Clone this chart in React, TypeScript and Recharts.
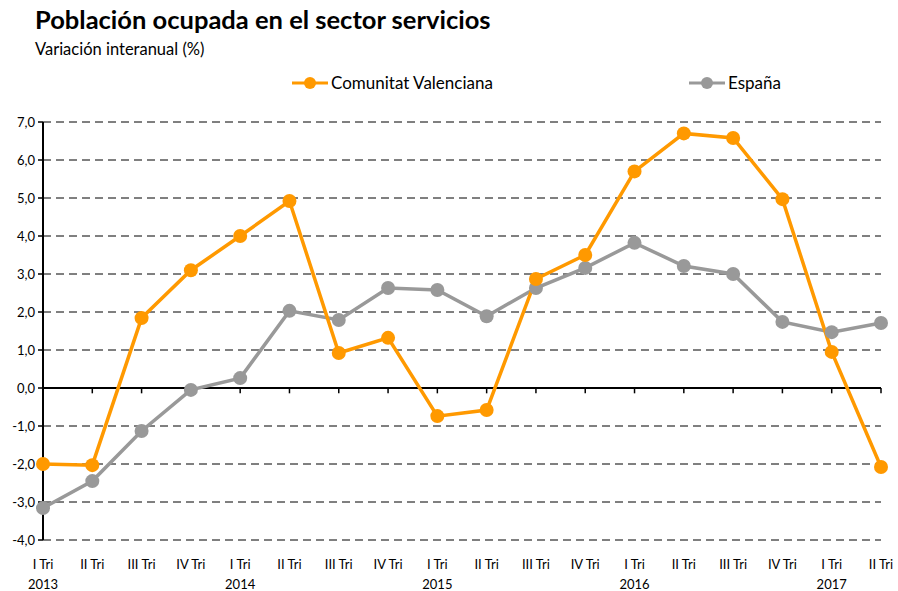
import React from "react";
import {
  CartesianGrid,
  Line,
  LineChart,
  ReferenceLine,
  XAxis,
  YAxis,
} from "recharts";

const quarters = [
  "I Tri", "II Tri", "III Tri", "IV Tri",
  "I Tri", "II Tri", "III Tri", "IV Tri",
  "I Tri", "II Tri", "III Tri", "IV Tri",
  "I Tri", "II Tri", "III Tri", "IV Tri",
  "I Tri", "II Tri",
];
const years = [
  "2013", "", "", "", "2014", "", "", "", "2015", "", "", "",
  "2016", "", "", "", "2017", "",
];
const valenciana = [
  -2.0, -2.03, 1.84, 3.1, 4.0, 4.92, 0.92, 1.32, -0.74, -0.58,
  2.87, 3.5, 5.7, 6.7, 6.58, 4.97, 0.95, -2.08,
];
const espana = [
  -3.16, -2.45, -1.13, -0.05, 0.26, 2.03, 1.79, 2.63, 2.58, 1.89,
  2.63, 3.16, 3.82, 3.21, 3.0, 1.74, 1.47, 1.71,
];
const yTicks = [-4, -3, -2, -1, 0, 1, 2, 3, 4, 5, 6, 7];

const data = quarters.map((q, i) => ({
  idx: i,
  q,
  year: years[i],
  cv: valenciana[i],
  es: espana[i],
}));

const FONT = "Lato, 'Open Sans', sans-serif";
const ORANGE = "#FF9900";
const GRAY = "#999999";

const fmt = (v: number) => v.toFixed(1).replace(".", ",");

function QuarterTick(props: any) {
  const { x, y, payload } = props;
  const d = data[payload.value];
  return (
    <g>
      <text x={x} y={y + 21} textAnchor="middle" fontSize={13} fill="#000" fontFamily={FONT}>
        {d.q}
      </text>
      {d.year && (
        <text x={x} y={y + 41} textAnchor="middle" fontSize={13} fill="#000" fontFamily={FONT}>
          {d.year}
        </text>
      )}
    </g>
  );
}

function LegendItem({ color, label, left }: { color: string; label: string; left: number }) {
  return (
    <div style={{ position: "absolute", left, top: 72, display: "flex", alignItems: "center" }}>
      <svg width={38} height={18}>
        <line x1={0} y1={9} x2={36} y2={9} stroke={color} strokeWidth={3} />
        <circle cx={18} cy={9} r={6} fill={color} />
      </svg>
      <span style={{ fontFamily: FONT, fontSize: 17, color: "#000", marginLeft: 1 }}>{label}</span>
    </div>
  );
}

export default function App() {
  return (
    <div style={{ position: "absolute", left: 0, top: 0, width: 898, height: 591, background: "#fff" }}>
      <div
        style={{
          position: "absolute",
          left: 35,
          top: 4,
          fontFamily: FONT,
          fontWeight: 700,
          fontSize: 25.5,
          color: "#000",
          whiteSpace: "nowrap",
        }}
      >
        Población ocupada en el sector servicios
      </div>
      <div
        style={{
          position: "absolute",
          left: 35,
          top: 39,
          fontFamily: FONT,
          fontSize: 16.5,
          color: "#000",
          whiteSpace: "nowrap",
        }}
      >
        Variación interanual (%)
      </div>
      <LegendItem color={ORANGE} label="Comunitat Valenciana" left={292} />
      <LegendItem color={GRAY} label="España" left={689} />
      <LineChart
        width={898}
        height={591}
        data={data}
        margin={{ top: 122, right: 17, left: 0, bottom: 0 }}
      >
        <CartesianGrid
          vertical={false}
          stroke="#000"
          strokeDasharray="8 5"
          horizontalValues={yTicks}
        />
        <XAxis
          dataKey="idx"
          type="number"
          domain={[0, 17]}
          ticks={data.map((d) => d.idx)}
          interval={0}
          height={51}
          axisLine={false}
          tickLine={false}
          tick={<QuarterTick />}
        />
        <YAxis
          type="number"
          domain={[-4, 7]}
          ticks={yTicks}
          width={43}
          tickFormatter={fmt}
          tick={{ fontSize: 13, fill: "#000", fontFamily: FONT }}
          axisLine={{ stroke: "#000", strokeWidth: 2 }}
          tickLine={{ stroke: "#000", strokeWidth: 1.5 }}
          tickSize={5}
          tickMargin={3}
        />
        <ReferenceLine y={0} stroke="#000" strokeWidth={2} />
        {data.map((d) => (
          <ReferenceLine
            key={`t-${d.idx}`}
            segment={[
              { x: d.idx, y: 0 },
              { x: d.idx, y: -0.14 },
            ]}
            stroke="#000"
            strokeWidth={1.5}
          />
        ))}
        <Line
          dataKey="es"
          stroke={GRAY}
          strokeWidth={3.5}
          dot={{ r: 7, fill: GRAY, stroke: GRAY, strokeWidth: 0 }}
          isAnimationActive={false}
        />
        <Line
          dataKey="cv"
          stroke={ORANGE}
          strokeWidth={3.5}
          dot={{ r: 7, fill: ORANGE, stroke: ORANGE, strokeWidth: 0 }}
          isAnimationActive={false}
        />
      </LineChart>
    </div>
  );
}
